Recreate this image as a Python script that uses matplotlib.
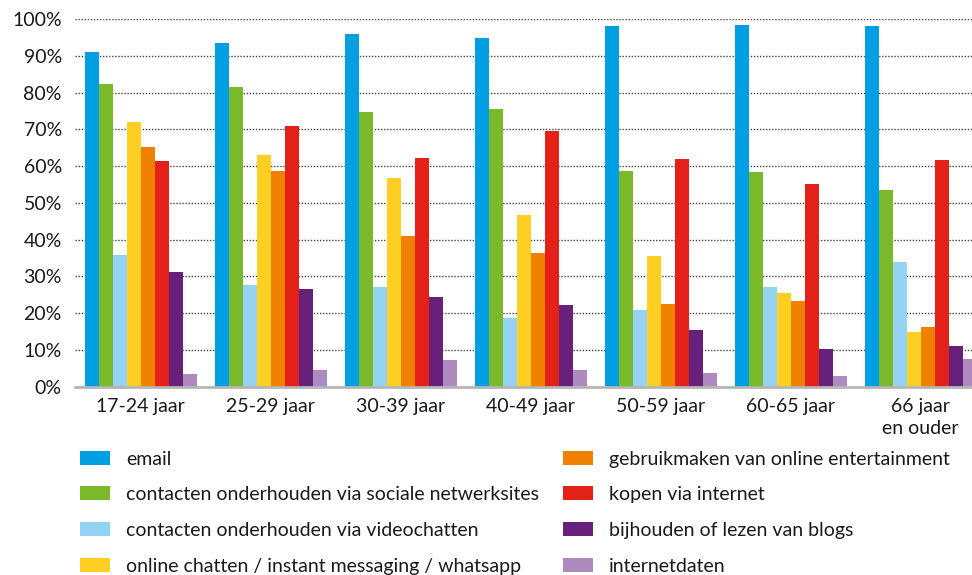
import numpy as np
import matplotlib
matplotlib.use("Agg")
from matplotlib import pyplot as plt
from matplotlib.patches import Patch

plt.rcParams['font.family'] = ['Lato', 'DejaVu Sans']

# age groups on the x axis
groups = ["17-24 jaar", "25-29 jaar", "30-39 jaar", "40-49 jaar",
          "50-59 jaar", "60-65 jaar", "66 jaar\nen ouder"]

series = ["email",
          "contacten onderhouden via sociale netwerksites",
          "contacten onderhouden via videochatten",
          "online chatten / instant messaging / whatsapp",
          "gebruikmaken van online entertainment",
          "kopen via internet",
          "bijhouden of lezen van blogs",
          "internetdaten"]

# percentages per series, one value per age group
email = [91.1, 93.6, 96.0, 94.9, 98.2, 98.5, 98.2]
sociaal = [82.4, 81.6, 74.8, 75.6, 58.7, 58.4, 53.5]
video = [35.8, 27.7, 27.1, 18.7, 20.9, 27.1, 33.9]
chatten = [72.0, 63.1, 56.8, 46.7, 35.6, 25.5, 14.9]
entertainment = [65.2, 58.7, 41.0, 36.4, 22.5, 23.3, 16.2]
kopen = [61.4, 71.0, 62.3, 69.6, 62.0, 55.2, 61.7]
blogs = [31.2, 26.6, 24.4, 22.2, 15.4, 10.3, 11.1]
daten = [3.4, 4.5, 7.3, 4.5, 3.7, 2.9, 7.5]

values = [email, sociaal, video, chatten, entertainment, kopen, blogs, daten]
colors = ["#009FE3", "#7AB929", "#95D3F5", "#FFD023",
          "#F08000", "#E32119", "#68217A", "#AE8ABF"]
yticks = [0, 10, 20, 30, 40, 50, 60, 70, 80, 90, 100]

fig = plt.figure(figsize=(9.72, 5.75), dpi=100)
ax = fig.add_axes([0.0772, 0.3275, 0.9228, 0.639])

x = np.arange(len(groups))
w = 0.1077
for i in range(len(series)):
    ax.bar(x + (i - 3.5) * w, values[i], width=w, color=colors[i],
           linewidth=0, zorder=3)

ax.set_xlim(-0.504, 6.396)
ax.set_ylim(0, 100)
ax.set_yticks(yticks)
ax.set_yticklabels([str(t) + "%" for t in yticks])
ax.set_xticks(x)
ax.set_xticklabels(groups, fontsize=14, color="#1a1a1a", linespacing=1.4)
ax.tick_params(axis='y', length=0, pad=9.5, labelsize=14, labelcolor="#1a1a1a")
ax.tick_params(axis='x', length=0, pad=8)
ax.get_xticklabels()[-1].set_horizontalalignment('center')

ax.grid(axis='y', linestyle=(0, (1, 1.2)), color="#444444", linewidth=1.0, zorder=0)
for s in ["top", "right", "left"]:
    ax.spines[s].set_visible(False)
ax.spines["bottom"].set_color("#b5b5b5")
ax.spines["bottom"].set_linewidth(2)
ax.spines["bottom"].set_zorder(4)

handles = [Patch(facecolor=c, edgecolor='none') for c in colors]
opts = dict(loc='upper left', frameon=False, fontsize=14, handlelength=1.54,
            handleheight=0.72, handletextpad=0.82, labelspacing=0.96,
            borderpad=0, borderaxespad=0, labelcolor="#1a1a1a")
fig.legend(handles[:4], series[:4], bbox_to_anchor=(0.0823, 0.2165), **opts)
fig.legend(handles[4:], series[4:], bbox_to_anchor=(0.579, 0.2165), **opts)

fig.savefig("out.png", dpi=100)
